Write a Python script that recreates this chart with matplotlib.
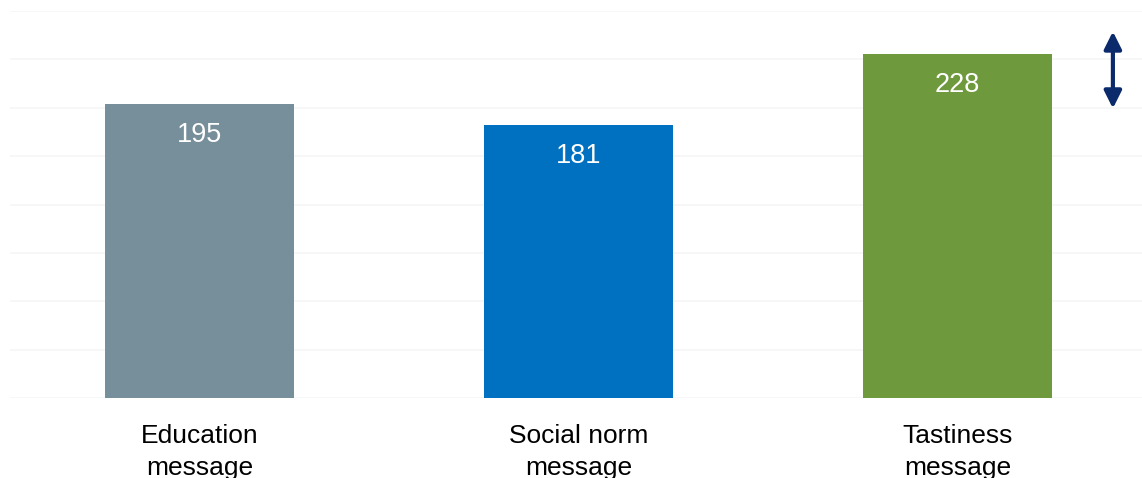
import numpy as np
import matplotlib.pyplot as plt

categories = ["Education\nmessage", "Social norm\nmessage", "Tastiness\nmessage"]
values = [195, 181, 228]
colors = ["#778F9B", "#0070C0", "#6E9A3D"]

plt.rcParams['font.family'] = ['Liberation Sans', 'DejaVu Sans']

fig = plt.figure(figsize=(11.42, 4.78), dpi=100)
ax = fig.add_axes([10 / 1142, 80 / 478, 1137 / 1142, 387 / 478])

x = np.arange(len(categories))
bars = ax.bar(x, values, width=0.5, color=colors, zorder=2)

ymax = 256.6
ax.set_ylim(0, ymax)
ax.set_xlim(-0.5, 2.5)
for gy in np.linspace(0, ymax, 9):
    ax.axhline(gy, color="#F6F6F6", lw=1.2, zorder=0)

for xi, v in zip(x, values):
    ax.annotate(str(v), (xi, v), xytext=(0, -22.5), textcoords="offset points",
                ha="center", va="center", color="white", fontsize=19.5)

# difference arrow on the right
ax.annotate("", xy=(2.41, 243), xytext=(2.41, 192),
            arrowprops=dict(arrowstyle="<|-|>", color="#0B2A6B", lw=3,
                            mutation_scale=26, shrinkA=0, shrinkB=0))

ax.set_xticks(x)
ax.set_xticklabels(categories, fontsize=19, linespacing=1.38)
ax.tick_params(axis="x", length=0, pad=19)
ax.set_yticks([])
for s in ax.spines.values():
    s.set_visible(False)

fig.savefig("out.png", dpi=100)
